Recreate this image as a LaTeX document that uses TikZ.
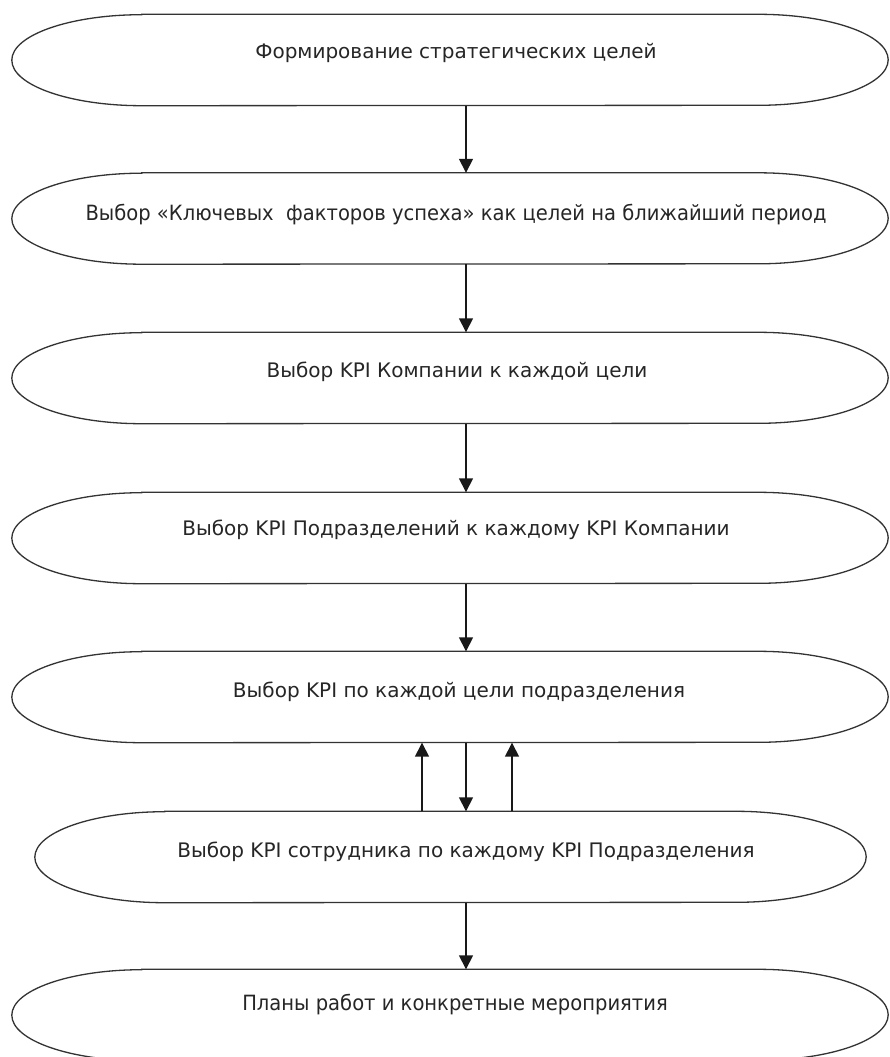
\documentclass[tikz,border=0pt]{standalone}
\usepackage{fontspec}
\setmainfont{DejaVu Sans}
\newfontfamily\narrowfont[FakeStretch=0.93]{DejaVu Sans}
\usetikzlibrary{arrows.meta}

\tikzset{
  stagebox/.style={draw=none, minimum width=#1, minimum height=91pt, inner sep=0pt},
  stagebox/.default=876pt,
  outline/.style={draw=black!80, line width=1.3pt},
  lbl/.style={inner sep=0pt, text=black!85, font=\fontsize{20}{24}\selectfont},
  narrowlbl/.style={lbl, font=\narrowfont\fontsize{21}{24}\selectfont},
  flow/.style={draw=black!90, line width=1.5pt, -{Triangle[width=14pt,length=14pt]}}
}

% stadium outline around a stage box: flat top and bottom, half-elliptic ends
\newcommand\stageoutline[1]{%
  \draw[outline] ([xshift=130pt]#1.north west) -- ([xshift=-130pt]#1.north east)
    arc[start angle=90, end angle=-90, x radius=130pt, y radius=45.5pt]
    -- ([xshift=130pt]#1.south west)
    arc[start angle=270, end angle=90, x radius=130pt, y radius=45.5pt] -- cycle;}

\begin{document}
\begin{tikzpicture}[x=1pt, y=-1pt]
  \useasboundingbox (0,0) rectangle (890,1057);
  \fill[white] (0,0) rectangle (890,1057);

  % stage boxes
  \node[stagebox] (s1) at (450,60)    {};
  \node[stagebox] (s2) at (450,218.5) {};
  \node[stagebox] (s3) at (450,378)   {};
  \node[stagebox] (s4) at (450,538)   {};
  \node[stagebox] (s5) at (450,697)   {};
  \node[stagebox=831pt] (s6) at (450.5,857) {};
  \node[stagebox] (s7) at (450,1015)  {};

  \foreach \s in {s1,s2,s3,s4,s5,s6,s7} {\stageoutline{\s}}

  % stage texts
  \node[lbl]       (t1) at (456,53)   {Формирование стратегических целей};
  \node[narrowlbl] (t2) at (456,215)  {Выбор «Ключевых\ \ факторов успеха» как целей на ближайший период};
  \node[lbl]       (t3) at (457,372)  {Выбор KPI Компании к каждой цели};
  \node[lbl]       (t4) at (456,530)  {Выбор KPI Подразделений к каждому KPI Компании};
  \node[lbl]       (t5) at (459,692)  {Выбор KPI по каждой цели подразделения};
  \node[lbl]       (t6) at (466,852)  {Выбор KPI сотрудника по каждому KPI Подразделения};
  \node[narrowlbl] (t7) at (455,1005) {Планы работ и конкретные мероприятия};

  % connectors
  \draw[flow] ([xshift=16pt]s1.south) -- ([xshift=16pt]s2.north);
  \draw[flow] ([xshift=16pt]s2.south) -- ([xshift=16pt]s3.north);
  \draw[flow] ([xshift=16pt]s3.south) -- ([xshift=16pt]s4.north);
  \draw[flow] ([xshift=16pt]s4.south) -- ([xshift=16pt]s5.north);
  \draw[flow] ([xshift=16pt]s5.south) -- ([xshift=15.5pt]s6.north);
  \draw[flow] ([xshift=-28.5pt]s6.north) -- ([xshift=-28pt]s5.south);
  \draw[flow] ([xshift=61.5pt]s6.north) -- ([xshift=62pt]s5.south);
  \draw[flow] ([xshift=15.5pt]s6.south) -- ([xshift=16pt]s7.north);
\end{tikzpicture}
\end{document}
